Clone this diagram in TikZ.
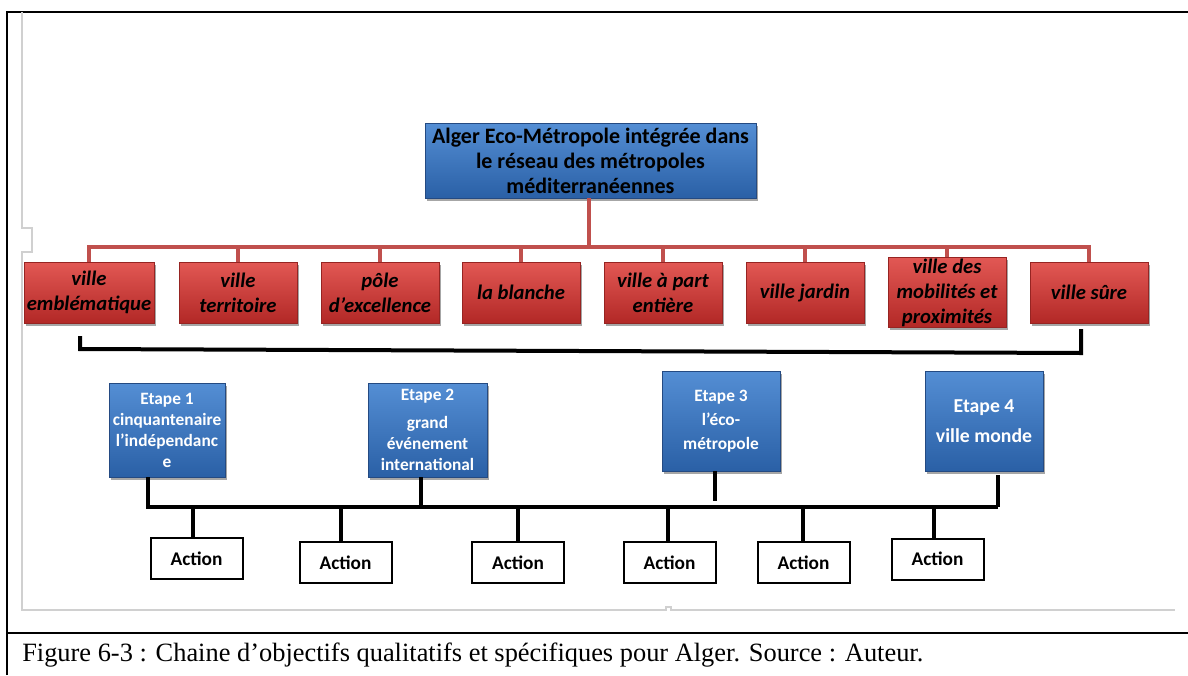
\documentclass[tikz,border=0pt]{standalone}
\usepackage{fontspec}
\setmainfont{Liberation Serif}
\newfontfamily\calib{Carlito}
\usetikzlibrary{shadows,calc}

\definecolor{redhi}{RGB}{226,88,84}
\definecolor{redlo}{RGB}{178,40,38}
\definecolor{rededge}{RGB}{150,36,34}
\definecolor{bluehi}{RGB}{84,142,212}
\definecolor{bluelo}{RGB}{42,96,166}
\definecolor{blueedge}{RGB}{36,74,130}
\definecolor{linkred}{RGB}{192,80,77}
\definecolor{pagegray}{RGB}{208,208,208}

\begin{document}
\begin{tikzpicture}[x=0.75pt,y=-0.75pt,
  box/.style={draw, line width=0.6pt, inner sep=1pt, align=center,
    drop shadow={shadow xshift=1.2pt, shadow yshift=-2pt, opacity=0.35, fill=black}},
  goal/.style={box, draw=blueedge, top color=bluehi, bottom color=bluelo, text=black,
    font=\calib\bfseries\fontsize{16.5}{18.75}\selectfont},
  theme/.style={box, draw=rededge, top color=redhi, bottom color=redlo, text=black,
    minimum width=88.5pt, minimum height=45.75pt,
    font=\calib\bfseries\itshape\fontsize{15.5}{18.75}\selectfont},
  etape/.style={box, draw=blueedge, top color=bluehi, bottom color=bluelo, text=white,
    minimum width=88.5pt, font=\calib\bfseries\fontsize{13}{15.75}\selectfont},
  action/.style={draw=black, line width=1.5pt, fill=white, minimum width=69pt,
    minimum height=30.75pt, inner sep=1pt, font=\calib\bfseries\fontsize{14.5}{16}\selectfont},
  redlink/.style={draw=linkred, line width=3pt},
  bar/.style={draw=black, line width=3pt},
  frame/.style={draw=black, line width=1.5pt},
  pageedge/.style={draw=pagegray, line width=0.8pt},
]
\useasboundingbox (0,0) rectangle (1188,675);

% table frame and caption cell
\draw[frame] (7,675) -- (7,12) -- (1188,12);
\draw[frame] (7,633) -- (1188,633);
\draw[pageedge] (22,12) -- (22,228) -- (32,228) -- (32,252) -- (22,252) -- (22,610)
  -- (666,610) -- (666,607) -- (671,607) -- (671,610) -- (1175,610);

% main objective
\node[goal, minimum width=248.25pt, minimum height=56.25pt] (top) at (590.5,160.5)
  {Alger Eco-Métropole intégrée dans\\le réseau des métropoles\\méditerranéennes};

% qualitative objectives
\node[theme, minimum width=97.5pt] (t1) at (89,292.5) {ville\\emblématique};
\node[theme] (t2) at (238,292.5) {ville\\territoire};
\node[theme] (t3) at (380,292.5) {pôle\\d’excellence};
\node[theme] (t4) at (521,292.5) {la blanche};
\node[theme] (t5) at (663,292.5) {ville à part\\entière};
\node[theme] (t6) at (805,292.5) {ville jardin};
\node[theme] (t7) at (947,292.5) {ville des\\mobilités et\\proximités};
\node[theme] (t8) at (1089,292.5) {ville sûre};

\coordinate (hub) at (589,247);
\draw[redlink] (top.south -| hub) -- (hub);
\draw[redlink, line cap=rect] (t1.north |- hub) -- (t8.north |- hub);
\foreach \t in {t1,t2,t3,t4,t5,t6,t7,t8}
  \draw[redlink] (\t.north |- hub) -- (\t.north);

% bracket under the objectives
\coordinate (bl1) at (80,336);
\coordinate (bl2) at (80,349);
\coordinate (br2) at (1081,353);
\coordinate (br1) at (1081,329);
\draw[bar] (bl1) -- (bl2) -- (br2) -- (br1);

% stages
\node[etape, minimum width=87pt, minimum height=70.5pt] (e1) at (167,430)
  {Etape 1\\cinquantenaire\\l’indépendanc\\e};
\node[etape, minimum width=89.25pt, minimum height=70.5pt] (e2) at (427.5,430)
  {Etape 2\\[5pt]grand\\événement\\international};
\node[etape, minimum height=75pt, font=\calib\bfseries\fontsize{13}{18}\selectfont] (e3) at (721,421)
  {Etape 3\\l’éco-\\métropole};
\node[etape, minimum height=75pt, font=\calib\bfseries\fontsize{14.8}{17}\selectfont] (e4) at (984,421)
  {Etape 4\\[6pt]ville monde};

% time line
\coordinate (tl) at (148,507);
\coordinate (tr) at (998,507);
\coordinate (s2) at (421,507);
\coordinate (s3) at (715,501);
\draw[bar] (e1.south -| tl) -- (tl) -- (tr);
\draw[bar] (e2.south -| s2) -- (s2);
\draw[bar] (e3.south -| s3) -- (s3);
\draw[bar] ([yshift=-3pt]e4.south -| tr) -- (tr);

% actions
\node[action] (a1) at (196.5,558.5) {Action};
\node[action] (a2) at (345.5,562.5) {Action};
\node[action] (a3) at (518,562.5) {Action};
\node[action] (a4) at (669.5,562.5) {Action};
\node[action] (a5) at (803.5,562.5) {Action};
\node[action] (a6) at (937.5,559) {Action};

\foreach \a/\x in {a1/193,a2/341,a3/518,a4/668,a5/803,a6/934}{
  \coordinate (d) at (\x,507);
  \draw[bar] (d) -- (d |- \a.north);
}

% caption
\node[anchor=base west, inner sep=0, font=\fontsize{19.8}{22}\selectfont] (cap) at (22,661)
  {Figure 6-3 : Chaine d’objectifs qualitatifs et spécifiques pour Alger. Source : Auteur.};
\end{tikzpicture}
\end{document}
